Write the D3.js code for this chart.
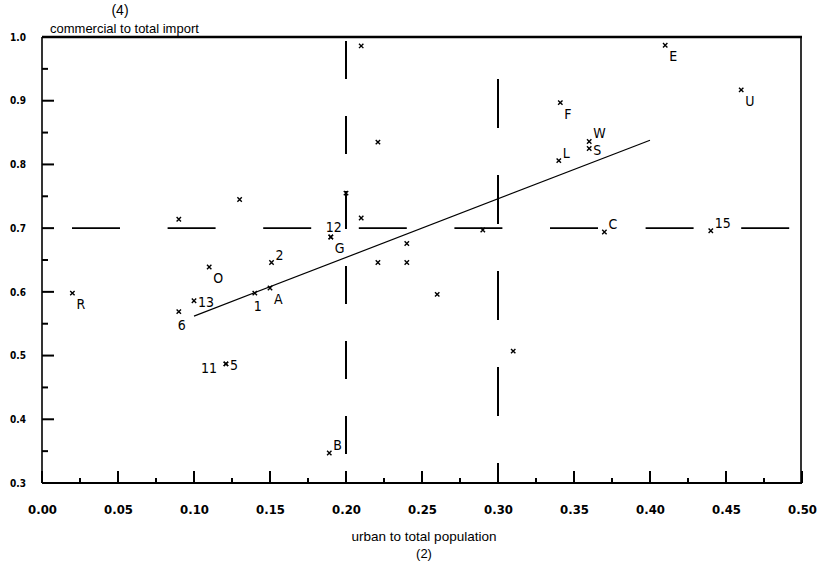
<!DOCTYPE html>
<html>
<head>
<meta charset="utf-8">
<script src="https://cdn.jsdelivr.net/npm/d3@7"></script>
<style>
  body { margin: 0; background: #fff; }
  .tick text { font-family: "Liberation Sans Narrow", "DejaVu Sans Condensed", sans-serif; font-weight: bold; }
  .ptlabel { font-family: "Liberation Sans Narrow", "DejaVu Sans Condensed", sans-serif; font-size: 14px; fill: #000; }
  .title { font-family: "Liberation Sans", sans-serif; fill: #000; }
</style>
</head>
<body>
<svg id="chart" width="820" height="568"></svg>
<script>

// urban to total population (2) vs commercial to total import (4)
var xVals = [0.020, 0.090, 0.100, 0.110, 0.121, 0.121, 0.090, 0.130, 0.140, 0.150,
             0.151, 0.190, 0.190, 0.189, 0.200, 0.210, 0.210, 0.221, 0.221, 0.240,
             0.240, 0.260, 0.290, 0.310, 0.340, 0.341, 0.360, 0.360, 0.370, 0.410,
             0.460, 0.440];
var yVals = [0.598, 0.569, 0.586, 0.639, 0.487, 0.487, 0.714, 0.745, 0.598, 0.606,
             0.646, 0.686, 0.686, 0.347, 0.755, 0.986, 0.716, 0.835, 0.646, 0.676,
             0.646, 0.596, 0.697, 0.507, 0.806, 0.897, 0.836, 0.825, 0.694, 0.987,
             0.917, 0.696];
var labels = ["R", "6", "13", "O", "11", "5", "", "", "1", "A",
              "2", "12", "G", "B", "", "", "", "", "", "",
              "", "", "", "", "L", "F", "W", "S", "C", "E",
              "U", "15"];
// where the label sits relative to its mark
var labelPos = ["se", "s", "e", "se", "sw", "e", "", "", "s", "se",
                "ne", "n", "se", "ne", "", "", "", "", "", "",
                "", "", "", "", "ne", "se", "ne", "e", "ne", "se",
                "se", "ne"];

// fitted line
var fitX = [0.10, 0.40];
var fitY = [0.562, 0.838];

// dashed reference lines
var refX = [0.20, 0.30];
var refY = [0.70];

var xMajor = [0, 0.05, 0.10, 0.15, 0.20, 0.25, 0.30, 0.35, 0.40, 0.45, 0.50];
var xMinor = [0.025, 0.075, 0.125, 0.175, 0.225, 0.275, 0.325, 0.375, 0.425, 0.475];
var yMajor = [0.3, 0.4, 0.5, 0.6, 0.7, 0.8, 0.9, 1.0];
var yMinor = [0.35, 0.45, 0.55, 0.65, 0.75, 0.85, 0.95];

var svg = d3.select("#chart");

var x = d3.scaleLinear().domain([0, 0.5]).range([42, 802]);
var y = d3.scaleLinear().domain([0.3, 1.0]).range([483, 37]);

// tick labels from the axis generators, tick marks drawn by hand below
var xAxis = svg.append("g").attr("transform", "translate(0," + y(0.3) + ")")
    .call(d3.axisBottom(x).tickValues(xMajor).tickSize(0).tickPadding(22)
        .tickFormat(d3.format(".2f")));
xAxis.select(".domain").remove();
xAxis.selectAll(".tick text").attr("font-size", 13).attr("fill", "#000");

var yAxis = svg.append("g").attr("transform", "translate(" + x(0) + ",0)")
    .call(d3.axisLeft(y).tickValues(yMajor).tickSize(0).tickPadding(16)
        .tickFormat(d3.format(".1f")));
yAxis.select(".domain").remove();
yAxis.selectAll(".tick text").attr("font-size", 10).attr("fill", "#000");

var ticks = svg.append("g").attr("stroke", "#000").attr("stroke-width", 2);

function xTicks(vals, len) {
    ticks.selectAll(null)
        .data(vals)
      .enter()
        .append("line")
        .attr("x1", function(d) { return x(d); })
        .attr("x2", function(d) { return x(d); })
        .attr("y1", y(0.3)).attr("y2", y(0.3) - len);
}
function yTicks(vals, len) {
    ticks.selectAll(null)
        .data(vals)
      .enter()
        .append("line")
        .attr("y1", function(d) { return y(d); })
        .attr("y2", function(d) { return y(d); })
        .attr("x1", x(0)).attr("x2", x(0) + len);
}
xTicks(xMajor, 12);
xTicks(xMinor, 5);
yTicks(yMajor, 12);
yTicks(yMinor, 6);

// frame
svg.append("line")
    .attr("x1", x(0)).attr("x2", x(0.5)).attr("y1", y(0.3)).attr("y2", y(0.3))
    .attr("stroke", "#000").attr("stroke-width", 2);
svg.append("line")
    .attr("x1", x(0)).attr("x2", x(0)).attr("y1", y(1.0)).attr("y2", y(0.3))
    .attr("stroke", "#000").attr("stroke-width", 1.6);
svg.append("line")
    .attr("x1", x(0)).attr("x2", x(0.5)).attr("y1", y(1.0)).attr("y2", y(1.0))
    .attr("stroke", "#000").attr("stroke-width", 2.6);
svg.append("line")
    .attr("x1", x(0.5) - 1).attr("x2", x(0.5) - 1).attr("y1", y(1.0)).attr("y2", y(0.3))
    .attr("stroke", "#000").attr("stroke-width", 1.6);

// reference lines
var vDash = [["38,37", -4], ["49,47", 54]];
svg.selectAll(".refx")
    .data(refX)
  .enter()
    .append("line")
    .attr("class", "refx")
    .attr("x1", function(d) { return x(d); })
    .attr("x2", function(d) { return x(d); })
    .attr("y1", y(1.0)).attr("y2", y(0.3))
    .attr("stroke", "#000").attr("stroke-width", 2)
    .attr("stroke-dasharray", function(d, i) { return vDash[i][0]; })
    .attr("stroke-dashoffset", function(d, i) { return vDash[i][1]; });

svg.selectAll(".refy")
    .data(refY)
  .enter()
    .append("line")
    .attr("class", "refy")
    .attr("x1", x(0)).attr("x2", x(0.5))
    .attr("y1", function(d) { return y(d); })
    .attr("y2", function(d) { return y(d); })
    .attr("stroke", "#000").attr("stroke-width", 1.6)
    .attr("stroke-dasharray", "48,47.6")
    .attr("stroke-dashoffset", 65.6);

// fitted line
svg.append("path")
    .datum(d3.zip(fitX, fitY))
    .attr("d", d3.line().x(function(d) { return x(d[0]); }).y(function(d) { return y(d[1]); }))
    .attr("fill", "none").attr("stroke", "#000").attr("stroke-width", 1.2);

// marks
var pts = d3.range(xVals.length).map(function(i) {
    return { x: xVals[i], y: yVals[i], label: labels[i], pos: labelPos[i] };
});

svg.selectAll(".mark")
    .data(pts)
  .enter()
    .append("path")
    .attr("class", "mark")
    .attr("transform", function(d) { return "translate(" + x(d.x) + "," + y(d.y) + ")"; })
    .attr("d", "M-2.2,-2.2L2.2,2.2M-2.2,2.2L2.2,-2.2")
    .attr("stroke", "#000").attr("stroke-width", 1.4);

var offsets = {
    ne: [4, -8, "start"],
    se: [4, 11, "start"],
    e:  [4, 1, "start"],
    s:  [3, 13, "middle"],
    n:  [3, -10, "middle"],
    sw: [-9, 4, "end"]
};

svg.selectAll(".ptlabel")
    .data(pts.filter(function(d) { return d.label; }))
  .enter()
    .append("text")
    .attr("class", "ptlabel")
    .attr("x", function(d) { return x(d.x) + offsets[d.pos][0]; })
    .attr("y", function(d) { return y(d.y) + offsets[d.pos][1]; })
    .attr("text-anchor", function(d) { return offsets[d.pos][2]; })
    .attr("dominant-baseline", "central")
    .text(function(d) { return d.label; });

// axis titles
svg.append("text").attr("class", "title").attr("x", 120).attr("y", 10).attr("font-size", 14)
    .attr("text-anchor", "middle").attr("dominant-baseline", "central").text("(4)");
svg.append("text").attr("class", "title").attr("x", 50).attr("y", 28).attr("font-size", 13)
    .attr("dominant-baseline", "central").text("commercial to total import");
svg.append("text").attr("class", "title").attr("x", 424).attr("y", 536).attr("font-size", 13.5)
    .attr("text-anchor", "middle").attr("dominant-baseline", "central").text("urban to total population");
svg.append("text").attr("class", "title").attr("x", 424).attr("y", 553).attr("font-size", 13)
    .attr("text-anchor", "middle").attr("dominant-baseline", "central").text("(2)");

</script>
</body>
</html>
